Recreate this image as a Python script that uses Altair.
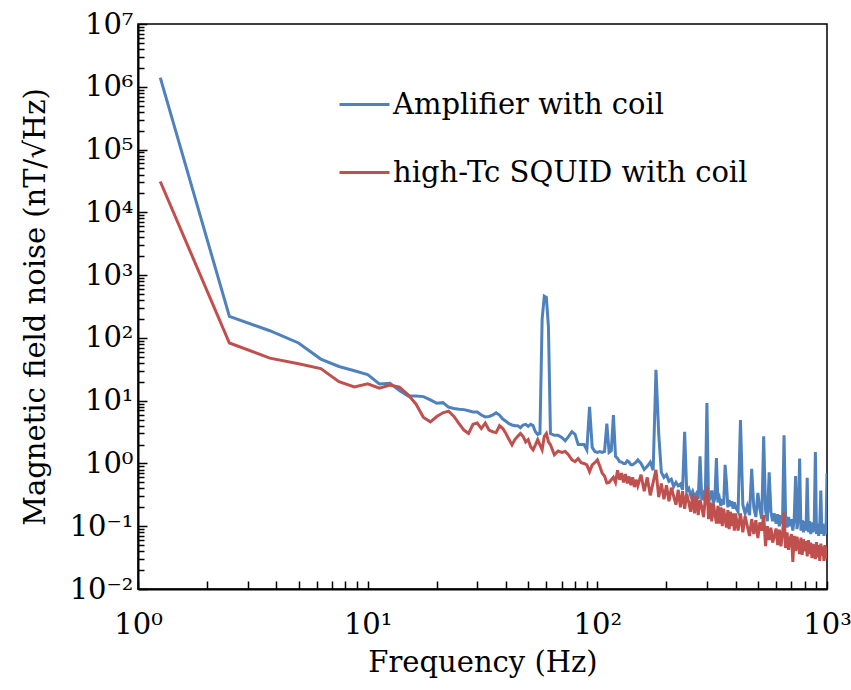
import altair as alt
import pandas as pd

# ---------------- data ----------------
freq = [
    1.25, 2.5, 3.75, 5, 6.25, 7.5, 8.75, 10, 11.25, 12.5,
    13.75, 15, 16.25, 17.5, 18.75, 20, 21.25, 22.5, 23.75, 25,
    26.25, 27.5, 28.75, 30, 31.25, 32.5, 33.75, 35, 36.25, 37.5,
    38.75, 40, 41.25, 42.5, 43.75, 45, 46.25, 47.5, 48.75, 50,
    51.25, 52.5, 53.75, 55, 56.25, 57.5, 58.75, 60, 61.25, 62.5,
    65, 67.5, 70, 72.5, 75, 77.5, 80, 82.5, 85, 87.5,
    90, 92.5, 95, 97.5, 100, 102.5, 105, 107.5, 110, 112.5,
    115, 117.5, 120, 122.5, 125, 127.5, 130, 132.5, 135, 137.5,
    140, 142.5, 145, 147.5, 150,
    155, 160, 165, 170, 175, 180, 185, 190, 195, 200,
    205, 210, 215, 220, 225, 230, 235, 240, 245, 250,
    255, 260, 265, 270, 275, 280, 285, 290, 295, 300,
    305, 310, 315, 320, 325, 330, 335, 340, 345, 350,
    355, 360, 365, 370, 375, 380, 385, 390, 395, 400,
    410, 420, 430, 440, 450, 460, 470, 480, 490, 500,
    510, 520, 530, 540, 550, 560, 570, 580, 590, 600,
    610, 620, 630, 640, 650, 660, 670, 680, 690, 700,
    710, 720, 730, 740, 750, 760, 770, 780, 790, 800,
    810, 820, 830, 840, 850, 860, 870, 880, 890, 900,
    910, 920, 930, 940, 950, 960, 970, 980, 990, 1000,
]

amplifier = [
    1400000, 220, 130, 83, 46, 35, 30, 26, 18.5, 19,
    14.5, 11.9, 11.9, 11.6, 10.3, 9.1, 9.3, 7.9, 7.5, 7.3,
    7.2, 6.9, 6.6, 6.6, 5.9, 5.5, 5.6, 5.9, 6.4, 5.9,
    5.1, 4.7, 4.3, 4.1, 4.0, 4.0, 3.7, 4.1, 4.2, 3.9,
    4.2, 4.0, 3.2, 2.9, 3.0, 200, 460, 440, 150, 3.0,
    2.8, 2.8, 2.6, 2.3, 2.7, 3.2, 2.9, 2.0, 2.0, 2.0,
    1.65, 8.0, 1.8, 1.55, 1.5, 1.55, 1.5, 1.55, 4.3, 1.5,
    1.6, 5.9, 1.3, 1.2, 1.07, 1.05, 1.0, 1.0, 1.1, 1.05,
    0.95, 0.95, 1.0, 1.05, 1.14,
    1.0, 0.8, 0.9, 1.05, 0.78, 31, 3.0, 0.72, 0.6, 0.66,
    0.52, 0.56, 0.43, 0.5, 0.44, 0.47, 0.38, 3.2, 0.36, 0.4,
    0.31, 0.36, 0.29, 0.33, 0.27, 1.3, 0.26, 0.32, 0.25, 9.2,
    0.24, 0.29, 0.37, 0.23, 0.28, 1.22, 0.24, 0.28, 0.21, 0.27,
    0.22, 0.95, 0.5, 0.2, 0.26, 0.21, 0.25, 0.19, 0.24, 0.2,
    0.17, 4.9, 0.22, 0.16, 0.21, 0.15, 0.82, 0.2, 0.14, 0.34,
    0.19, 0.13, 2.7, 0.18, 0.12, 0.72, 0.17, 0.12, 0.16, 0.11,
    0.155, 0.1, 0.15, 0.11, 2.8, 0.15, 0.095, 0.14, 0.1, 0.13,
    0.085, 0.135, 0.63, 0.09, 0.13, 1.2, 0.085, 0.125, 0.08, 0.12,
    0.085, 0.59, 0.08, 0.12, 0.075, 0.115, 0.08, 0.11, 1.52, 0.075,
    0.11, 0.07, 0.105, 0.37, 0.075, 0.11, 0.07, 0.1, 0.075, 0.7,
]

squid = [
    31000, 83, 47.6, 38.6, 32.5, 20, 16.6, 18.6, 15.8, 17.8,
    16.4, 12.4, 8.8, 5.4, 4.6, 5.6, 6.4, 6.8, 5.6, 4.3,
    3.4, 3.0, 4.2, 4.4, 3.6, 4.4, 3.4, 3.2, 3.1, 4.0,
    3.6, 3.0, 2.4, 1.98, 2.4, 2.7, 3.0, 2.7, 2.2, 2.4,
    1.85, 1.65, 1.98, 2.4, 1.98, 1.65, 2.7, 3.0, 2.2, 1.98,
    1.37, 1.58, 1.5, 1.55, 1.37, 1.14, 1.07, 1.2, 1.03, 1.0,
    0.95, 0.74, 0.95, 1.03, 1.14, 0.9, 0.7, 0.63, 0.49, 0.5,
    0.55, 0.6, 0.5, 0.78, 0.55, 0.7, 0.5, 0.68, 0.48, 0.62,
    0.45, 0.6, 0.42, 0.55, 0.44,
    0.66, 0.36, 0.6, 0.31, 0.5, 0.79, 0.29, 0.48, 0.27, 0.45,
    0.25, 0.41, 0.3, 0.22, 0.38, 0.2, 0.36, 0.19, 0.33, 0.24,
    0.17, 0.32, 0.16, 0.3, 0.15, 0.26, 0.2, 0.14, 0.27, 0.43,
    0.13, 0.24, 0.12, 0.23, 0.16, 0.11, 0.21, 0.11, 0.2, 0.1,
    0.19, 0.13, 0.095, 0.18, 0.09, 0.17, 0.1, 0.16, 0.085, 0.16,
    0.085, 0.16, 0.08, 0.145, 0.1, 0.07, 0.13, 0.075, 0.125, 0.065,
    0.115, 0.085, 0.15, 0.048, 0.1, 0.06, 0.095, 0.055, 0.07, 0.092,
    0.05, 0.088, 0.048, 0.075, 0.165, 0.045, 0.08, 0.042, 0.062, 0.075,
    0.027, 0.07, 0.04, 0.068, 0.05, 0.036, 0.066, 0.035, 0.062, 0.04,
    0.058, 0.033, 0.06, 0.036, 0.055, 0.031, 0.052, 0.04, 0.03, 0.056,
    0.032, 0.05, 0.028, 0.053, 0.034, 0.048, 0.028, 0.05, 0.03, 0.046,
]

series_names = ["Amplifier with coil", "high-Tc SQUID with coil"]
series_colors = ["#4F81BD", "#C0504D"]

x_exponents = [0, 1, 2, 3]
y_exponents = [-2, -1, 0, 1, 2, 3, 4, 5, 6, 7]
minor_mults = [1, 2, 3, 4, 5, 6, 7, 8, 9]

# ---------------- build table ----------------
df = pd.concat([
    pd.DataFrame({"freq": freq, "value": amplifier, "series": series_names[0]}),
    pd.DataFrame({"freq": freq, "value": squid, "series": series_names[1]}),
], ignore_index=True)

SUP = {"-": "\u207b", "0": "\u2070", "1": "\u00b9", "2": "\u00b2", "3": "\u00b3",
       "4": "\u2074", "5": "\u2075", "6": "\u2076", "7": "\u2077", "8": "\u2078", "9": "\u2079"}


def sup_label(e):
    return "10" + "".join(SUP[c] for c in str(e))


x_major = [10.0 ** e for e in x_exponents]
y_major = [10.0 ** e for e in y_exponents]
x_ticks = [m * 10.0 ** e for e in x_exponents[:-1] for m in minor_mults] + [x_major[-1]]
y_ticks = [m * 10.0 ** e for e in y_exponents[:-1] for m in minor_mults] + [y_major[-1]]

x_label_expr = "[" + ",".join("'%s'" % sup_label(e) for e in x_exponents) + \
    "][round(log(datum.value)/LN10) - (%d)]" % x_exponents[0]
y_label_expr = "[" + ",".join("'%s'" % sup_label(e) for e in y_exponents) + \
    "][round(log(datum.value)/LN10) - (%d)]" % y_exponents[0]

W, H = 689, 565
FONT = "DejaVu Serif"
FS = 29

xs = alt.Scale(type="log", domain=[x_major[0], x_major[-1]], nice=False)
ys = alt.Scale(type="log", domain=[y_major[0], y_major[-1]], nice=False)

color = alt.Color(
    "series:N",
    scale=alt.Scale(domain=series_names, range=series_colors),
    legend=alt.Legend(
        title=None, orient="none", legendX=200, legendY=54, direction="vertical",
        symbolType="stroke", symbolSize=2500, symbolStrokeWidth=3,
        labelFont=FONT, labelFontSize=FS, labelColor="black", labelLimit=0,
        rowPadding=26, labelOffset=2, padding=0,
    ),
)

label_x_axis = alt.Axis(
    values=x_major, labelExpr=x_label_expr, ticks=False, tickSize=0, grid=False,
    labelFont=FONT, labelFontSize=FS, labelColor="black", labelPadding=21,
    labelFlush=False, labelOverlap=False,
    domainColor="black", domainWidth=2,
    title="Frequency (Hz)", titleFont=FONT, titleFontSize=FS, titleFontWeight="normal",
    titleColor="black", titlePadding=9,
)
label_y_axis = alt.Axis(
    values=y_major, labelExpr=y_label_expr, ticks=False, tickSize=0, grid=False,
    labelFont=FONT, labelFontSize=FS, labelColor="black", labelPadding=5,
    labelFlush=False, labelOverlap=False,
    domainColor="black", domainWidth=2,
    title="Magnetic field noise (nT/\u221aHz)", titleFont=FONT, titleFontSize=FS,
    titleFontWeight="normal", titleColor="black", titlePadding=19,
)

tick_x_axis = alt.Axis(
    orient="top", offset=-H, values=x_ticks, labels=False, domain=False, grid=False,
    ticks=True, tickSize=8, tickWidth=1.5, tickColor="black", title=None,
)
tick_y_axis = alt.Axis(
    orient="right", offset=-W, values=y_ticks, labels=False, domain=False, grid=False,
    ticks=True, tickWidth=1.5, tickColor="black", title=None,
    tickSize={"condition": {"test": "abs(log(datum.value)/LN10 - round(log(datum.value)/LN10)) < 0.001",
                            "value": 9}, "value": 6},
)

base = alt.Chart(df)

blue = base.transform_filter(alt.datum.series == series_names[0]).mark_line(
    strokeWidth=3, clip=True
).encode(
    x=alt.X("freq:Q", scale=xs, axis=label_x_axis),
    y=alt.Y("value:Q", scale=ys, axis=label_y_axis),
    color=color,
)

red = base.transform_filter(alt.datum.series == series_names[1]).mark_line(
    strokeWidth=3, clip=True
).encode(
    x=alt.X("freq:Q", scale=xs, axis=tick_x_axis),
    y=alt.Y("value:Q", scale=ys, axis=tick_y_axis),
    color=color,
)

chart = alt.layer(blue, red).resolve_axis(x="independent", y="independent").properties(
    width=W, height=H,
    autosize=alt.AutoSizeParams(type="none"),
    padding={"left": 138, "top": 24, "right": 24, "bottom": 101},
    background="white",
).configure_view(stroke="black", strokeWidth=1.5)

chart.save("out.html", embed_options={"renderer": "svg", "actions": False})
